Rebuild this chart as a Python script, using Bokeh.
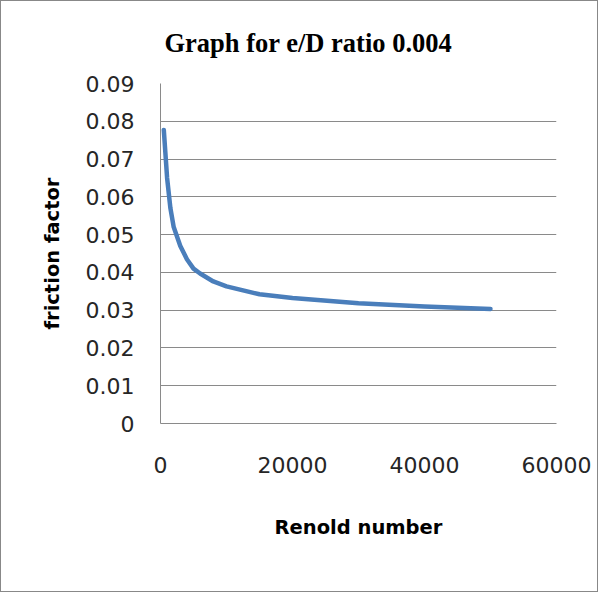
from bokeh.plotting import figure
from bokeh.models import FixedTicker, Range1d
from bokeh.embed import file_html
from bokeh.resources import INLINE

# Data
reynolds = [500, 1000, 1500, 2000, 3000, 4000, 5000, 6000, 8000, 10000,
            15000, 20000, 30000, 40000, 50000]
friction = [0.0777, 0.065, 0.057, 0.052, 0.047, 0.0435, 0.041, 0.0397, 0.0376,
            0.0363, 0.0342, 0.0332, 0.0318, 0.0310, 0.0303]

x_ticks = [0, 20000, 40000, 60000]
x_tick_labels = ["0", "20000", "40000", "60000"]
y_ticks = [0, 0.01, 0.02, 0.03, 0.04, 0.05, 0.06, 0.07, 0.08, 0.09]
y_tick_labels = ["0", "0.01", "0.02", "0.03", "0.04", "0.05", "0.06", "0.07", "0.08", "0.09"]

title_text = "Graph for e/D ratio 0.004"
x_label = "Renold number"
y_label = "friction factor"

p = figure(width=598, height=592, output_backend="svg", toolbar_location=None,
           x_range=Range1d(0, 60000), y_range=Range1d(0, 0.09),
           min_border_left=159, min_border_right=43, min_border_top=82,
           min_border_bottom=170, title=title_text)

p.styles = {"border": "1px solid #888888", "box-sizing": "border-box"}

p.title.text_font = "Liberation Serif"
p.title.text_font_style = "bold"
p.title.text_font_size = "26.5px"
p.title.align = "left"
p.title.offset = 4
p.title.text_color = "black"
p.title.vertical_align = "top"
p.title.standoff = 48

p.line(reynolds, friction, line_color="#4A7EBB", line_width=4.5, line_join="round", line_cap="round")

p.outline_line_color = None
p.background_fill_color = "white"
p.border_fill_color = "white"

p.xgrid.visible = False
p.ygrid.ticker = FixedTicker(ticks=y_ticks)
p.ygrid.grid_line_color = "#8a8a8a"
p.ygrid.grid_line_width = 1

for ax in (p.xaxis[0], p.yaxis[0]):
    ax.axis_line_color = "#8a8a8a"
    ax.major_tick_line_color = None
    ax.minor_tick_line_color = None
    ax.major_tick_out = 0
    ax.major_tick_in = 0
    ax.major_label_text_font = "DejaVu Sans"
    ax.major_label_text_font_size = "22px"
    ax.major_label_text_color = "#262626"
    ax.axis_label_text_font = "DejaVu Sans"
    ax.axis_label_text_font_style = "bold"
    ax.axis_label_text_font_size = "19.5px"
    ax.axis_label_text_color = "black"

p.xaxis.ticker = FixedTicker(ticks=x_ticks)
p.xaxis.major_label_overrides = dict(zip(x_ticks, x_tick_labels))
p.xaxis.major_label_standoff = 33
p.xaxis.axis_label = x_label
p.xaxis.axis_label_standoff = 40

p.yaxis.ticker = FixedTicker(ticks=y_ticks)
p.yaxis.major_label_overrides = dict(zip(y_ticks, y_tick_labels))
p.yaxis.major_label_standoff = 26
p.yaxis.axis_label = y_label
p.yaxis.axis_label_standoff = 19

open("out.html", "w").write(file_html(p, INLINE))
